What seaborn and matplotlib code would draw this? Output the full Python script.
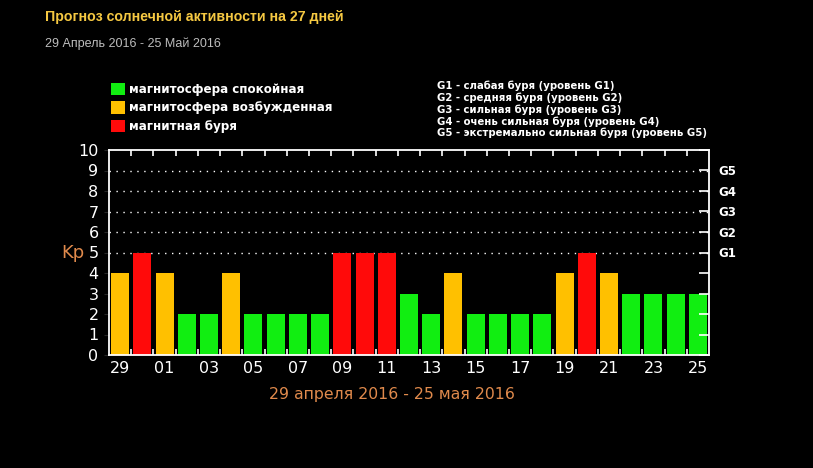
"""
Kp forecast chart, 27 days
"""

import matplotlib
matplotlib.use("Agg")
import matplotlib.pyplot as plt
from matplotlib.patches import Patch
import seaborn as sns

days = ["29", "30", "01", "02", "03", "04", "05", "06", "07", "08", "09", "10", "11", "12",
        "13", "14", "15", "16", "17", "18", "19", "20", "21", "22", "23", "24", "25"]
kp = [4, 5, 4, 2, 2, 4, 2, 2, 2, 2, 5, 5, 5, 3,
      2, 4, 2, 2, 2, 2, 4, 5, 4, 3, 3, 3, 3]

legend_labels = ["магнитосфера спокойная", "магнитосфера возбужденная", "магнитная буря"]
g_levels = ["G1", "G2", "G3", "G4", "G5"]
g_legend = ["G1 - слабая буря (уровень G1)",
            "G2 - средняя буря (уровень G2)",
            "G3 - сильная буря (уровень G3)",
            "G4 - очень сильная буря (уровень G4)",
            "G5 - экстремально сильная буря (уровень G5)"]

GREEN = "#11ee11"
ORANGE = "#ffc000"
RED = "#ff0a0a"


def kp_color(v):
    if v >= 5:
        return RED
    if v == 4:
        return ORANGE
    return GREEN


if __name__ == "__main__":
    sns.set_style("dark")
    plt.rcParams["font.family"] = ["DejaVu Sans"]

    fig = plt.figure(figsize=(8.13, 4.68), dpi=100, facecolor="black")
    ax = fig.add_axes([109 / 813, 113 / 468, 600 / 813, 205 / 468])
    ax.set_facecolor("black")

    palette = {d: kp_color(v) for d, v in zip(days, kp)}
    sns.barplot(x=days, y=kp, hue=days, palette=palette, legend=False,
                width=0.81, saturation=1, edgecolor="none", linewidth=0, ax=ax)

    ax.set_xlim(-0.5, len(days) - 0.5)
    ax.set_ylim(0, 10)
    for y in range(5, 10):
        ax.axhline(y, color="white", linestyle=(0, (1, 4)), linewidth=1, zorder=0)
    ax.grid(False)

    for s in ax.spines.values():
        s.set_color("white")
        s.set_linewidth(1.3)
        s.set_visible(True)

    ax.set_xticks(range(0, len(days), 2))
    ax.set_xticklabels(days[::2])
    ax.set_xticks([i + 0.5 for i in range(len(days) - 1)], minor=True)
    ax.tick_params(axis="x", which="major", length=0, colors="white", labelsize=11.5, pad=4)
    ax.tick_params(axis="x", which="minor", direction="in", length=4, width=1.2,
                   color="white", top=True, bottom=True)
    ax.set_yticks(range(0, 11))
    ax.tick_params(axis="y", left=False, labelcolor="white", labelsize=11.5, pad=4)

    ax2 = ax.twinx()
    ax2.set_ylim(0, 10)
    ax2.set_yticks(range(0, 11))
    ax2.set_yticklabels([""] * 5 + g_levels + [""])
    ax2.tick_params(axis="y", direction="in", length=7, width=1.2, color="white",
                    labelcolor="white", labelsize=8.5, pad=7)
    for lab in ax2.get_yticklabels():
        lab.set_fontweight("bold")
    ax2.grid(False)
    for s in ax2.spines.values():
        s.set_visible(False)

    ax.set_xlabel("")
    ax.set_ylabel("")

    fig.text(45 / 813, 1 - 17 / 468, "Прогноз солнечной активности на 27 дней",
             color="#f5c842", fontsize=10.2, fontweight="bold", family="Liberation Sans",
             va="center", ha="left")
    fig.text(45 / 813, 1 - 44 / 468, "29 Апрель 2016 - 25 Май 2016",
             color="#bdbdbd", fontsize=9, family="Liberation Sans", va="center", ha="left")
    fig.text(73 / 813, 1 - 253 / 468, "Kp", color="#e08a4c", fontsize=13,
             va="center", ha="center")
    fig.text(392 / 813, 1 - 394 / 468, "29 апреля 2016 - 25 мая 2016", color="#e08a4c",
             fontsize=11.3, va="center", ha="center")

    handles = [Patch(facecolor=c, edgecolor="none") for c in (GREEN, ORANGE, RED)]
    leg = fig.legend(handles, legend_labels, loc="upper left",
                     bbox_to_anchor=(100 / 813, 1 - 72 / 468), frameon=False,
                     handlelength=1.2, handleheight=1.2, handletextpad=0.35,
                     labelspacing=0.45, prop={"size": 8.6, "weight": "bold"})
    for t in leg.get_texts():
        t.set_color("white")

    for i, line in enumerate(g_legend):
        fig.text(437 / 813, 1 - (86 + i * 11.8) / 468, line, color="white",
                 fontsize=7.3, fontweight="bold", va="center", ha="left")

    plt.savefig("out.png", dpi=100, facecolor="black")
